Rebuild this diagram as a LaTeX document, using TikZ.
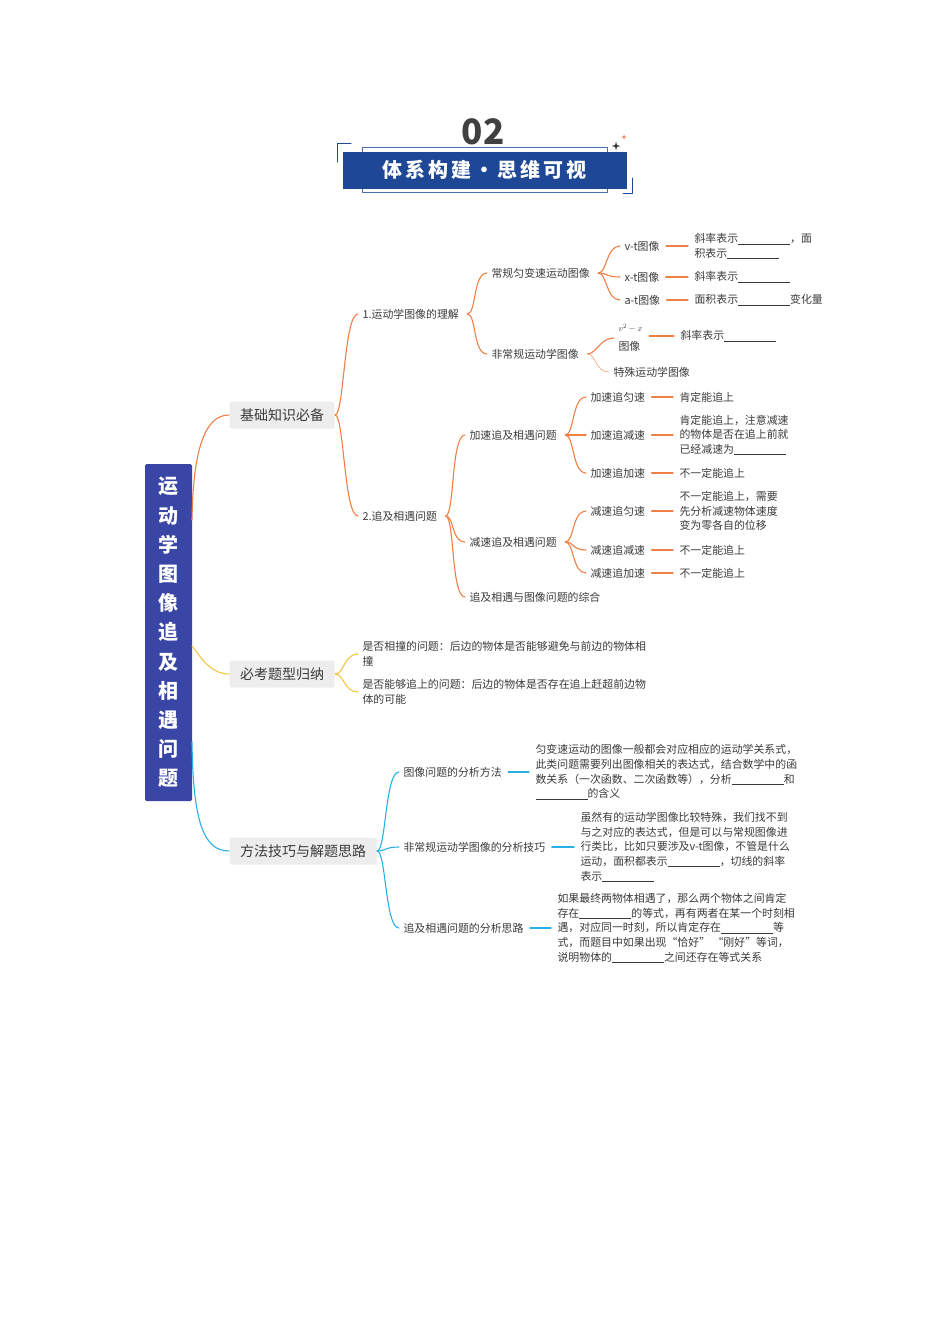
\documentclass[tikz,border=0pt]{standalone}
\usepackage{fontspec}
\setmainfont{Noto Sans CJK SC}
\usetikzlibrary{calc}
\definecolor{brOr}{HTML}{EF7F45}
\definecolor{brYe}{HTML}{F4C446}
\definecolor{brBl}{HTML}{2AB0E6}
\definecolor{rootBl}{HTML}{3A46A6}
\definecolor{headBl}{HTML}{1E4896}
\definecolor{txt}{HTML}{3A3A3A}
\newcommand\blk{\rule[-1.5pt]{52pt}{0.5pt}}
\newcommand\sparkle[4]{\fill[#4] (#1,#2-#3) -- (#1+0.2*#3,#2-0.2*#3) -- (#1+#3,#2) -- (#1+0.2*#3,#2+0.2*#3) -- (#1,#2+#3) -- (#1-0.2*#3,#2+0.2*#3) -- (#1-#3,#2) -- (#1-0.2*#3,#2-0.2*#3) -- cycle;}
\begin{document}
\begin{tikzpicture}[x=1pt,y=-1pt,line join=round,line cap=round,line width=1.1pt,
	every node/.style={text=txt},
	tx/.style={anchor=west,inner xsep=4pt,inner ysep=1pt,align=left,font=\fontsize{10.9}{14.6}\selectfont},
	topic/.style={anchor=west,fill=black!7,rounded corners=2pt,minimum height=27pt,inner xsep=10.5pt,font=\fontsize{14}{16}\selectfont},
	br/.style={to path={([xshift=#1]\tikztostart) .. controls ([xshift=#1+9pt]\tikztostart) and ([xshift=-14pt]\tikztotarget) .. (\tikztotarget)}},
	br/.default=4pt,
	lk/.style={shorten <=2pt,shorten >=2pt}]
	\useasboundingbox (0,0) rectangle (950,1344);
	%Header.
	\node[font=\fontsize{35}{36}\selectfont\bfseries,text=black!75] (num) at (483,132) {02};
	\draw[headBl!80,line width=0.8pt] (362,147) rectangle (607,192);
	\node[fill=headBl,text=white,minimum width=284pt,minimum height=37pt,inner sep=0pt,font=\fontsize{20}{22}\selectfont\bfseries] (head) at (484.5,170) {体\hskip2.9pt 系\hskip2.9pt 构\hskip2.9pt 建\hskip2.9pt ・\hskip2.9pt 思\hskip2.9pt 维\hskip2.9pt 可\hskip2.9pt 视};
	\draw[headBl,line width=1pt] (337,162) -- (337,143) -- (351,143);
	\draw[headBl,line width=1pt] (623,193) -- (632,193) -- (632,178);
	\sparkle{616}{146}{4.5}{black!80}
	\sparkle{624}{137}{3}{brOr}
	%Root.
	\node[fill=rootBl,text=white,rounded corners=1.5pt,minimum width=47pt,minimum height=337pt,inner sep=0pt,align=center,font=\fontsize{20}{29.2}\selectfont\bfseries] (root) at (168.5,632.5) {运\\动\\学\\图\\像\\追\\及\\相\\遇\\问\\题};
	\coordinate (rA) at (192,520);
	\coordinate (rB) at (192,646);
	\coordinate (rC) at (192,742);
	%Topics.
	\node[topic] (jc) at (229,415) {基础知识必备};
	\node[topic] (bk) at (229,674) {必考题型归纳};
	\node[topic] (ff) at (229,851) {方法技巧与解题思路};
	\draw[brOr] (rA) .. controls (193,455) and (203,415) .. (jc.west);
	\draw[brYe] (rB) .. controls (200,656) and (210,674) .. (bk.west);
	\draw[brBl] (rC) .. controls (193,820) and (203,851) .. (ff.west);
	%Basic knowledge.
	\node[tx] (ua) at (358,314) {1.运动学图像的理解};
	\node[tx] (ub) at (358,516) {2.追及相遇问题};
	\draw[brOr] (jc.east) to[br=0pt] (ua.west);
	\draw[brOr] (jc.east) to[br=0pt] (ub.west);
	\node[tx] (cg) at (487,273) {常规匀变速运动图像};
	\node[tx] (fc) at (487,354) {非常规运动学图像};
	\draw[brOr] (ua.east) to[br] (cg.west);
	\draw[brOr] (ua.east) to[br] (fc.west);
	\node[tx] (vt) at (620,246) {v-t图像};
	\node[tx] (xt) at (620,277) {x-t图像};
	\node[tx] (at) at (620,300) {a-t图像};
	\draw[brOr] (cg.east) to[br] (vt.west);
	\draw[brOr] (cg.east) to[br] (xt.west);
	\draw[brOr] (cg.east) to[br] (at.west);
	\node[tx] (vtL) at (690,246) {斜率表示\blk，面\\积表示\blk};
	\node[tx] (xtL) at (690,277) {斜率表示\blk};
	\node[tx] (atL) at (690,300) {面积表示\blk 变化量};
	\draw[brOr,lk] (vt.east) -- (vt.east -| vtL.west);
	\draw[brOr,lk] (xt.east) -- (xt.east -| xtL.west);
	\draw[brOr,lk] (at.east) -- (at.east -| atL.west);
	\node[tx] (vx) at (614,338) {\scalebox{0.8}{$v^2-x$}\\[4pt]图像};
	\node[tx] (ts) at (609,372) {特殊运动学图像};
	\draw[brOr] (fc.east) to[br] (vx.west);
	\draw[brOr!60,line width=0.8pt] (fc.east) to[br] (ts.west);
	\node[tx] (vxL) at (676,336) {斜率表示\blk};
	\draw[brOr,lk] (vx.east |- vxL.west) -- (vxL.west);
	%Chase and meet.
	\node[tx] (js) at (465,435) {加速追及相遇问题};
	\node[tx] (ds) at (465,542) {减速追及相遇问题};
	\node[tx] (zh) at (465,597) {追及相遇与图像问题的综合};
	\draw[brOr] (ub.east) to[br] (js.west);
	\draw[brOr] (ub.east) to[br] (ds.west);
	\draw[brOr] (ub.east) to[br] (zh.west);
	\node[tx] (jy) at (586,397) {加速追匀速};
	\node[tx] (jj) at (586,435) {加速追减速};
	\node[tx] (ja) at (586,473) {加速追加速};
	\draw[brOr] (js.east) to[br] (jy.west);
	\draw[brOr] (js.east) to[br] (jj.west);
	\draw[brOr] (js.east) to[br] (ja.west);
	\node[tx] (dy) at (586,511) {减速追匀速};
	\node[tx] (dj) at (586,550) {减速追减速};
	\node[tx] (da) at (586,573) {减速追加速};
	\draw[brOr] (ds.east) to[br] (dy.west);
	\draw[brOr] (ds.east) to[br] (dj.west);
	\draw[brOr] (ds.east) to[br] (da.west);
	\node[tx] (jyL) at (675,397) {肯定能追上};
	\node[tx] (jjL) at (675,435) {肯定能追上，注意减速\\的物体是否在追上前就\\已经减速为\blk};
	\node[tx] (jaL) at (675,473) {不一定能追上};
	\node[tx] (dyL) at (675,511) {不一定能追上，需要\\先分析减速物体速度\\变为零各自的位移};
	\node[tx] (djL) at (675,550) {不一定能追上};
	\node[tx] (daL) at (675,573) {不一定能追上};
	\foreach \a in {jy,jj,ja,dy,dj,da}
		\draw[brOr,lk] (\a.east) -- (\a.east -| \a L.west);
	%Exam types.
	\node[tx] (yA) at (358,654) {是否相撞的问题：后边的物体是否能够避免与前边的物体相\\撞};
	\node[tx] (yB) at (358,692) {是否能够追上的问题：后边的物体是否存在追上赶超前边物\\体的可能};
	\draw[brYe] (bk.east) to[br=0pt] (yA.west);
	\draw[brYe] (bk.east) to[br=0pt] (yB.west);
	%Methods.
	\node[tx] (fa) at (399,772) {图像问题的分析方法};
	\node[tx] (fb) at (399,847) {非常规运动学图像的分析技巧};
	\node[tx] (fd) at (399,928) {追及相遇问题的分析思路};
	\draw[brBl] (ff.east) to[br=0pt] (fa.west);
	\draw[brBl] (ff.east) to[br=0pt] (fb.west);
	\draw[brBl] (ff.east) to[br=0pt] (fd.west);
	\node[tx] (faL) at (531,772) {匀变速运动的图像一般都会对应相应的运动学关系式，\\此类问题需要列出图像相关的表达式，结合数学中的函\\数关系（一次函数、二次函数等），分析\blk 和\\\blk 的含义};
	\node[tx] (fbL) at (576,847) {虽然有的运动学图像比较特殊，我们找不到\\与之对应的表达式，但是可以与常规图像进\\行类比，比如只要涉及v-t图像，不管是什么\\运动，面积都表示\blk，切线的斜率\\表示\blk};
	\node[tx] (fdL) at (553,928) {如果最终两物体相遇了，那么两个物体之间肯定\\存在\blk 的等式，再有两者在某一个时刻相\\遇，对应同一时刻，所以肯定存在\blk 等\\式，而题目中如果出现“恰好” “刚好”等词，\\说明物体的\blk 之间还存在等式关系};
	\foreach \a in {fa,fb,fd}
		\draw[brBl,lk] (\a.east) -- (\a.east -| \a L.west);
\end{tikzpicture}
\end{document}
